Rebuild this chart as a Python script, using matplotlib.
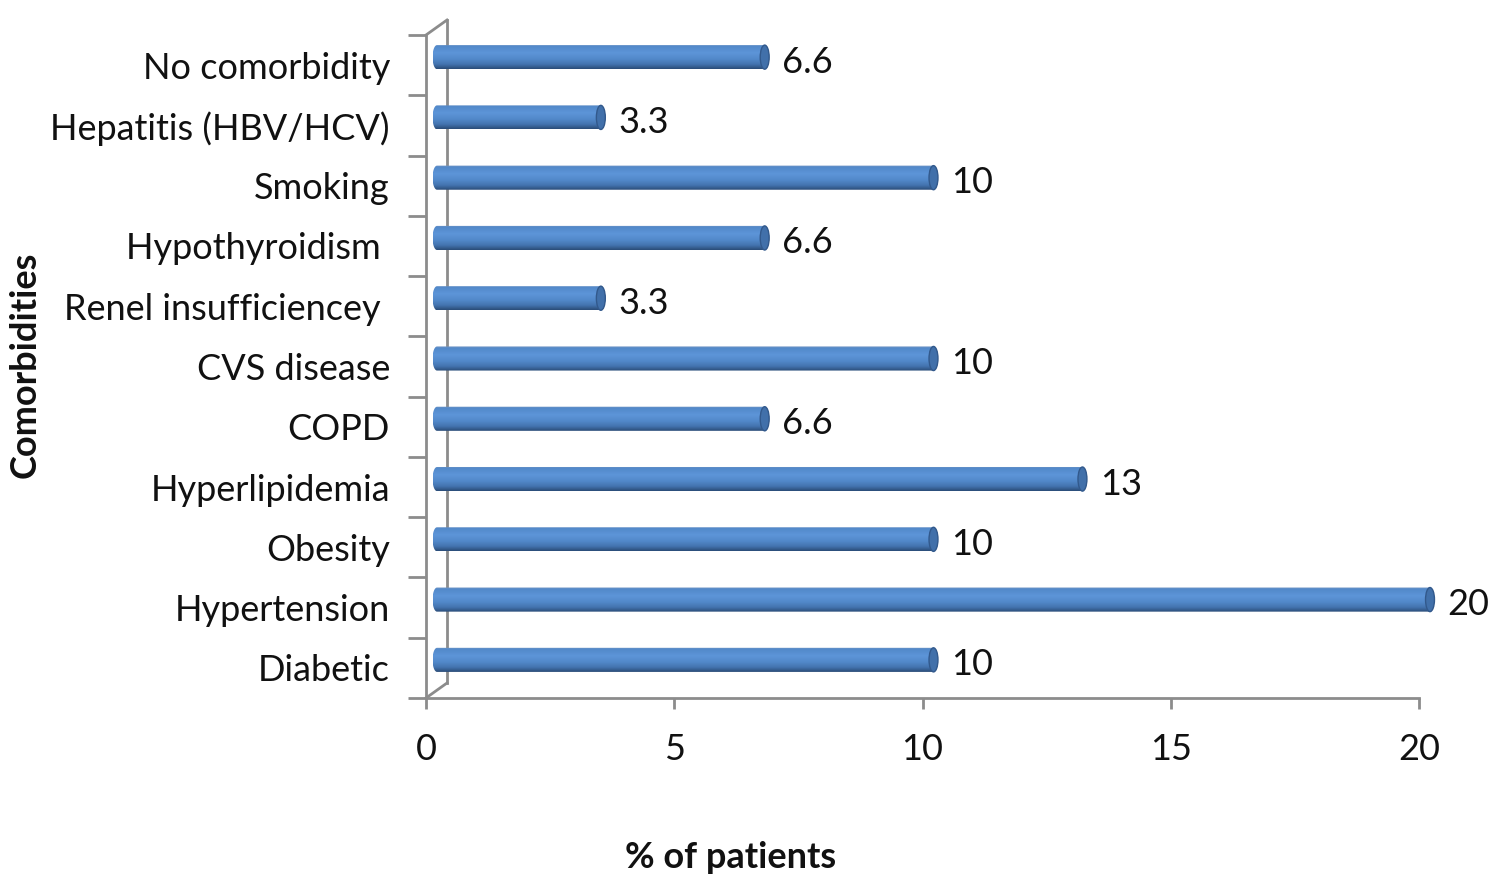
import matplotlib
matplotlib.use("Agg")
import matplotlib.pyplot as plt
import matplotlib.transforms as mtransforms
from matplotlib.colors import LinearSegmentedColormap
from matplotlib.patches import Ellipse, PathPatch
from matplotlib.path import Path
import numpy as np

# data, bottom to top as in the chart
categories = ["Diabetic", "Hypertension", "Obesity", "Hyperlipidemia", "COPD",
              "CVS disease", "Renel insufficiencey ", "Hypothyroidism ",
              "Smoking", "Hepatitis (HBV/HCV)", "No comorbidity"]
values = [10, 20, 10, 13, 6.6, 10, 3.3, 6.6, 10, 3.3, 6.6]
value_labels = ["10", "20", "10", "13", "6.6", "10", "3.3", "6.6", "10", "3.3", "6.6"]
x_ticks = [0, 5, 10, 15, 20]

FONT = ["Lato", "DejaVu Sans"]
AXIS_GREY = "#8c8c8c"
TXT = "#111111"
FS = 26
BAR_H = 0.4
CAP_W = 0.18
X_MAX = 20

plt.rcParams["font.family"] = FONT

# axes runs to the right edge so the longest cylinder is not clipped;
# the bottom spine is cut back to 0..20
ax_left, ax_right = 426, 1500
x_end_px = 1419
x_lim_hi = X_MAX * (ax_right - ax_left) / (x_end_px - ax_left)

fig = plt.figure(figsize=(15, 8.86), dpi=100)
ax = fig.add_axes([ax_left / 1500, 188 / 886, (ax_right - ax_left) / 1500, 663 / 886])
ax.set_xlim(0, x_lim_hi)
ax.set_ylim(-0.5, len(categories) - 0.5)
ax.patch.set_alpha(0)

for s in ["top", "right"]:
    ax.spines[s].set_visible(False)
for s in ["left", "bottom"]:
    ax.spines[s].set_color(AXIS_GREY)
    ax.spines[s].set_linewidth(2)
ax.spines["bottom"].set_bounds(0, X_MAX)

ax.set_xticks(x_ticks)
ax.set_xticklabels([str(t) for t in x_ticks])
ax.tick_params(axis="x", direction="out", length=8, width=2, color=AXIS_GREY,
               labelsize=FS, pad=17, labelcolor=TXT)
ax.set_yticks(range(len(categories)))
ax.set_yticklabels(categories)
ax.tick_params(axis="y", length=0, labelsize=FS, pad=26, labelcolor=TXT)
ax.set_yticks(np.arange(-0.5, len(categories), 1), minor=True)
ax.tick_params(axis="y", which="minor", direction="out", length=13, width=2,
               color=AXIS_GREY)

# 3D depth: back wall offset and bar offset (pixels)
back_dx, back_dy = 21, 15
bar_dx, bar_dy = 11, 8
back_tr = mtransforms.offset_copy(ax.transData, fig=fig, x=back_dx, y=back_dy, units="dots")
bar_tr = mtransforms.offset_copy(ax.transData, fig=fig, x=bar_dx, y=bar_dy, units="dots")
lab_tr = mtransforms.offset_copy(ax.transData, fig=fig, x=bar_dx + 13, y=bar_dy - 5, units="dots")

y0, y1 = -0.5, len(categories) - 0.5
ax.plot([0, 0], [y0, y1], color=AXIS_GREY, lw=2, transform=back_tr, clip_on=False, zorder=1)
for yy in (y0, y1):
    p_front = ax.transData.transform((0, yy))
    p_back = p_front + np.array([back_dx, back_dy])
    fig.add_artist(plt.Line2D([p_front[0], p_back[0]], [p_front[1], p_back[1]],
                              transform=None, color=AXIS_GREY, lw=2))

# cylinder shading, top to bottom
shade = LinearSegmentedColormap.from_list("cyl", [
    (0.0, "#7396c4"), (0.08, "#5289ca"), (0.35, "#5d95d8"), (0.6, "#5289ca"),
    (0.82, "#4373ae"), (1.0, "#2b4c78")])
grad = np.linspace(0, 1, 64).reshape(-1, 1)

th = np.linspace(0, np.pi, 40)
for i, (v, lab) in enumerate(zip(values, value_labels)):
    top, bot = i + BAR_H / 2, i - BAR_H / 2
    # outline: left half-ellipse, bottom edge, right half-ellipse, top edge
    left = np.column_stack([-CAP_W / 2 * np.sin(th), i + BAR_H / 2 * np.cos(th)])
    right = np.column_stack([v + CAP_W / 2 * np.sin(th), i - BAR_H / 2 * np.cos(th)])
    verts = np.vstack([left, right, left[:1]])
    clip = PathPatch(Path(verts), transform=bar_tr, facecolor="none", edgecolor="none",
                     clip_on=False)
    ax.add_patch(clip)
    im = ax.imshow(grad, cmap=shade, aspect="auto", extent=(-CAP_W / 2, v + CAP_W / 2, bot, top),
                   origin="upper", transform=bar_tr, interpolation="bilinear", zorder=3)
    im.set_clip_path(clip)
    cap = Ellipse((v, i), CAP_W, BAR_H, transform=bar_tr, facecolor="#4170aa",
                  edgecolor="#32598c", lw=1, zorder=4, clip_on=False)
    ax.add_patch(cap)
    ax.text(v + CAP_W / 2, i, lab, transform=lab_tr, fontsize=FS, va="center",
            ha="left", color=TXT, zorder=5)

ax.set_xlim(0, x_lim_hi)
ax.set_ylim(-0.5, len(categories) - 0.5)

fig.text(731 / 1500, 1 - 857 / 886, "% of patients", ha="center", va="center",
         fontsize=FS, fontweight="bold", color=TXT)
fig.text(25 / 1500, 1 - 365 / 886, "Comorbidities", ha="center", va="center",
         rotation=90, fontsize=FS, fontweight="bold", color=TXT)

fig.savefig("out.png", dpi=100)
